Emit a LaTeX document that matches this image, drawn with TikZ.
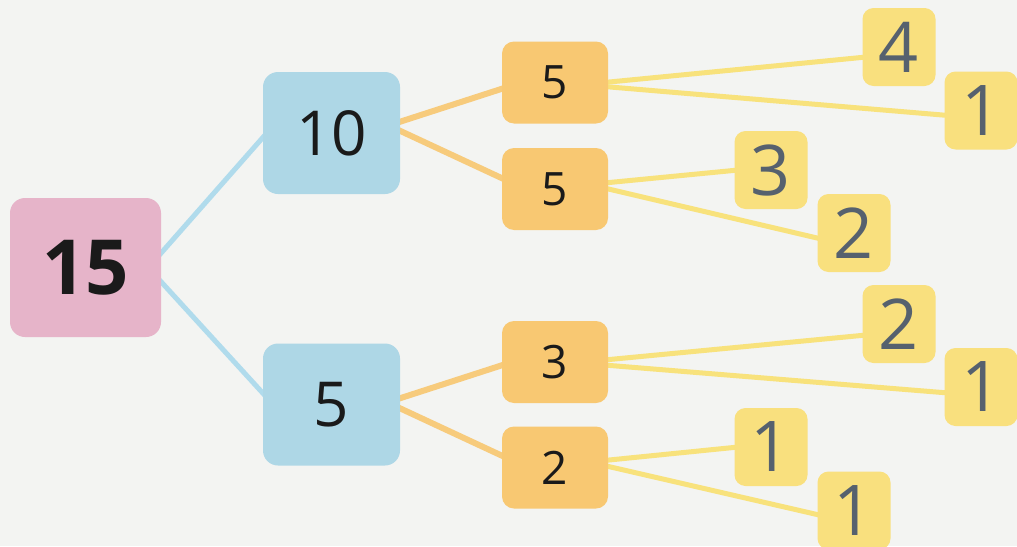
\documentclass[tikz,border=0pt]{standalone}
\usepackage{fontspec}
\setmainfont{Open Sans}
\newfontfamily\handfont{Open Sans}
\usetikzlibrary{calc}
\pgfdeclarelayer{bg}
\pgfdeclarelayer{background}
\pgfsetlayers{bg,background,main}
\definecolor{pagebg}{HTML}{F3F4F2}
\definecolor{pinkfill}{HTML}{E6B4C9}
\definecolor{bluefill}{HTML}{AED7E6}
\definecolor{orangefill}{HTML}{F8C872}
\definecolor{yellowfill}{HTML}{F9E07E}
\definecolor{blueline}{HTML}{B0DBEC}
\definecolor{orangeline}{HTML}{F7CB7C}
\definecolor{yellowline}{HTML}{F8E27C}
\definecolor{ink}{HTML}{1A1A1A}
\definecolor{handink}{HTML}{56616E}
\tikzset{
  box/.style={rounded corners=15pt, inner sep=0pt, text=ink},
  rootbox/.style={box, fill=pinkfill, minimum width=151pt, minimum height=139pt, font=\fontsize{76}{80}\selectfont\bfseries},
  bluebox/.style={box, fill=bluefill, minimum width=137pt, minimum height=122pt, font=\fontsize{62}{66}\selectfont},
  orangebox/.style={box, rounded corners=12pt, fill=orangefill, minimum width=106pt, minimum height=82pt, font=\fontsize{46}{50}\selectfont},
  yellowbox/.style={box, rounded corners=11pt, fill=yellowfill, minimum width=73pt, minimum height=78pt, text=handink, font=\handfont\fontsize{70}{72}\selectfont},
  blueconn/.style={draw=blueline, line width=5pt},
  orangeconn/.style={draw=orangeline, line width=6pt},
  yellowconn/.style={draw=yellowline, line width=5pt},
}
\begin{document}
\begin{tikzpicture}[x=1pt, y=-1pt]
\begin{pgfonlayer}{bg}
  \fill[pagebg] (0,0) rectangle (1017,546);
\end{pgfonlayer}
\useasboundingbox (0,0) rectangle (1017,546);
% nodes
\node[rootbox] (p) at (85.5,267.5) {15};
\node[bluebox] (b10) at (331.5,133) {10};
\node[bluebox] (b5) at (331.5,404.5) {5};
\node[orangebox] (o1) at (555,82.5) {5};
\node[orangebox] (o2) at (555,189) {5};
\node[orangebox] (o3) at (555,362) {3};
\node[orangebox] (o4) at (555,467.5) {2};
\node[yellowbox] (y4) at (899,47) {4};
\node[yellowbox] (y1a) at (981,110.5) {1};
\node[yellowbox] (y3) at (771,170) {3};
\node[yellowbox] (y2a) at (854,233) {2};
\node[yellowbox] (y2b) at (899,324) {2};
\node[yellowbox] (y1b) at (981,387) {1};
\node[yellowbox] (y1c) at (771,447) {1};
\node[yellowbox] (y1d) at (854,510.5) {1};
% connectors
\begin{pgfonlayer}{background}
  \draw[blueconn] ($(p.east)+(-4,-10)$) -- ($(b10.west)+(4,0)$);
  \draw[blueconn] ($(p.east)+(-4,10)$) -- ($(b5.west)+(4,-7)$);
  \draw[orangeconn] ($(b10.east)+(-4,-10)$) -- ($(o1.west)+(4,5)$);
  \draw[orangeconn] ($(b10.east)+(-4,-4)$) -- ($(o2.west)+(4,-9)$);
  \draw[orangeconn] ($(b5.east)+(-4,-5)$) -- ($(o3.west)+(4,2)$);
  \draw[orangeconn] ($(b5.east)+(-4,2)$) -- ($(o4.west)+(4,-10)$);
  \draw[yellowconn] ($(o1.east)+(-4,0)$) -- ($(y4.west)+(4,10)$);
  \draw[yellowconn] ($(o1.east)+(-4,4)$) -- ($(y1a.west)+(4,5)$);
  \draw[yellowconn] ($(o2.east)+(-4,-6)$) -- ($(y3.west)+(4,0)$);
  \draw[yellowconn] ($(o2.east)+(-4,-1)$) -- ($(y2a.west)+(4,6)$);
  \draw[yellowconn] ($(o3.east)+(-4,-2)$) -- ($(y2b.west)+(4,11)$);
  \draw[yellowconn] ($(o3.east)+(-4,3)$) -- ($(y1b.west)+(4,6)$);
  \draw[yellowconn] ($(o4.east)+(-4,-7)$) -- ($(y1c.west)+(4,0)$);
  \draw[yellowconn] ($(o4.east)+(-4,-2)$) -- ($(y1d.west)+(4,5)$);
\end{pgfonlayer}
\end{tikzpicture}
\end{document}
